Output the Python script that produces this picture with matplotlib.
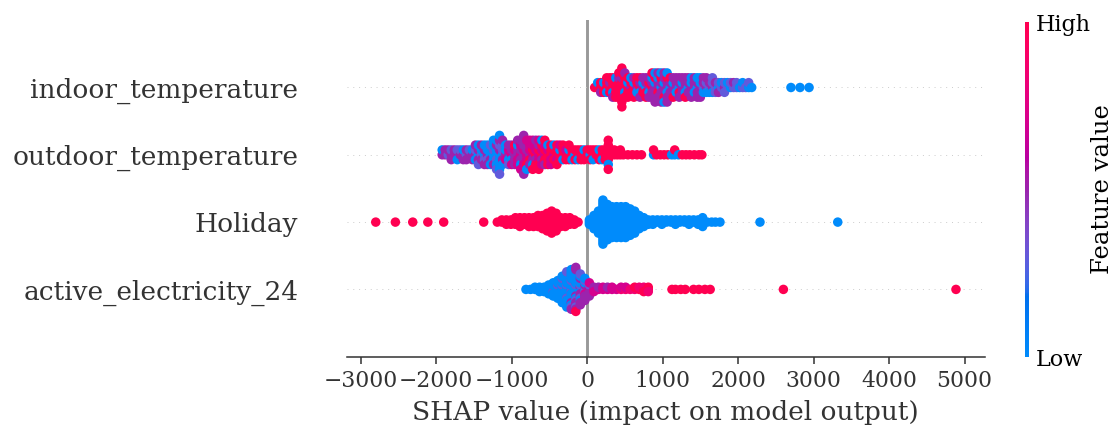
import numpy as np
import matplotlib
matplotlib.use("Agg")
import matplotlib.pyplot as plt
from matplotlib.colors import LinearSegmentedColormap, Normalize
from matplotlib.cm import ScalarMappable

plt.rcParams['font.family'] = 'DejaVu Serif'

# rows from bottom to top
feature_names = ['active_electricity_24', 'Holiday', 'outdoor_temperature', 'indoor_temperature']

# every bin: a SHAP value and one letter per dot in it (its feature value)
# H = high ... L = low
code = {'H': 1.0, 'h': 0.85, 'm': 0.7, 'M': 0.5, 'l': 0.3, 'L': 0.0}

indoor_bins = [100, 140, 180, 220, 260, 300, 340, 380, 420, 460, 500, 540, 580, 620, 660, 700,
               740, 780, 820, 860, 900, 940, 980, 1020, 1060, 1100, 1140, 1180, 1220, 1260, 1300,
               1340, 1380, 1420, 1460, 1500, 1540, 1580, 1620, 1660, 1700, 1740, 1780, 1820, 1860,
               1900, 1940, 1980, 2020, 2060, 2100, 2140, 2180, 2700, 2820, 2940]
indoor_dots = ["H", "HL", "HHM", "HLH", "HHLH", "HMHH", "HHLHM", "HHHLH", "HHHMHH", "HHHMHHHHH",
               "HHLHHM", "HLHHH", "MHHL", "HLHMH", "MHLH", "HMLHM", "MLHM", "LMHMH", "MHLMM",
               "HMMLMH", "MLMHMLM", "MMHLMM", "LMMHMLM", "MLMMHML", "MMLHMLM", "LMMHM", "MLMMH",
               "MMLM", "LMHMM", "MLMM", "MMLMH", "LMMM", "MLMLM", "MMLM", "LMMLM", "MLMLM",
               "lMLM", "MlLM", "lML", "MlLl", "lMl", "LlM", "lL", "Mll", "lL", "Ll", "lM", "ll",
               "L", "lL", "l", "Ll", "L", "L", "L", "L"]

outdoor_bins = [-1920, -1880, -1840, -1800, -1760, -1720, -1680, -1640, -1600, -1560, -1520,
                -1480, -1440, -1400, -1360, -1320, -1280, -1240, -1200, -1160, -1120, -1080,
                -1040, -1000, -960, -920, -880, -840, -800, -760, -720, -680, -640, -600, -560,
                -520, -480, -440, -400, -360, -320, -280, -240, -200, -160, -120, -80, -40, 0,
                40, 80, 120, 160, 200, 240, 280, 320, 360, 400, 440, 480, 540, 600, 660, 720,
                880, 920, 970, 1020, 1070, 1120, 1160, 1210, 1260, 1310, 1360, 1420, 1480, 1520]
outdoor_dots = ["ML", "MM", "lM", "MlM", "MM", "MlL", "Ml", "MLM", "lMM", "Ml", "MLM",
                "MlLM", "LMMLl", "lLMM", "LMlLM", "MLlLM", "LLMlL", "LlLLML", "LLlMLLl",
                "LMLlLMLLl", "LlMlLM", "MLmL", "MmLMl", "mMLMm", "MmMHM", "MMmLmM", "mMMmLMm",
                "MmMMmMmMM", "mMmMHmL", "MmHmMm", "mHMmLmH", "HmMmHM", "mHmMHmH", "HmMHmL",
                "mHHmMH", "HmHLH", "HHmHm", "mHHL", "HHmHH", "HLHm", "HHLH", "HmH", "HLHH", "HHL",
                "LHH", "HHL", "HHH", "HLH", "HH", "LHH", "HHL", "HH", "HLH", "HHL", "HHH",
                "HHHHLHH", "HH", "HH", "H", "HH", "H", "H", "H", "H", "H",
                "LH", "H", "H", "H", "H", "L", "LH", "L", "H", "H", "H", "H", "H", "H"]

holiday_bins = [-2800, -2540, -2310, -2110, -1900, -1370, -1190, -1130, -1070, -1010, -950, -890,
                -830, -770, -710, -650, -590, -530, -470, -410, -350, -290, -230, -170, -120,
                30, 90, 150, 210, 270, 330, 390, 450, 510, 570, 630, 690, 750, 810, 870, 930, 990,
                1050, 1110, 1170, 1230, 1290, 1350, 1410, 1470, 1530, 1590, 1650, 1700, 1760,
                2290, 3320]
holiday_counts = [1, 1, 1, 1, 1, 1, 1, 2, 3, 3, 4, 5, 4, 5, 5, 6, 7, 9, 11, 9, 5, 5, 4, 3, 1,
                  3, 7, 11, 21, 17, 15, 15, 15, 15, 13, 11, 7, 5, 3, 3, 2, 3, 2, 2, 3, 2, 2, 3, 2,
                  3, 5, 1, 1, 1, 1, 1, 1]
# holiday dots are high below zero and low above it
holiday_dots = [('H' if b < 0 else 'L') * n for b, n in zip(holiday_bins, holiday_counts)]

active_bins = [-810, -750, -690, -630, -570, -510, -450, -390, -330, -270, -210, -150, -90, -30,
               30, 90, 150, 210, 270, 330, 390, 450, 510, 570, 630, 690, 750, 810,
               1124, 1170, 1240, 1300, 1410, 1480, 1560, 1630, 2600, 4886]
active_dots = ["L", "L", "LL", "LLL", "LLL", "LLLLL", "LLlLLLL", "LLLlLLLLL", "LLLlLLLLLlLLL",
               "LLLlLLLLlLLLLLLlL", "LLlLLLLlLLLLMLLLlLM", "LLLlLLMLLLlLMLMLlMMMH",
               "LMLlMLMLlMLLMlM", "MLlMmLMlMLM", "MmMlMmM", "mMm", "mM", "mm", "mM", "mm", "m",
               "hm", "hm", "h", "hH", "Hh", "HhH", "HHh",
               "H", "H", "H", "H", "H", "H", "H", "H", "H", "H"]

rows = [(active_bins, active_dots), (holiday_bins, holiday_dots),
        (outdoor_bins, outdoor_dots), (indoor_bins, indoor_dots)]


# shap's red_blue colormap, built in LCH space
def lch_to_rgb(l, c, h):
    a = c * np.cos(h)
    b = c * np.sin(h)
    fy = (l + 16) / 116
    fx = fy + a / 500
    fz = fy - b / 200

    def finv(t):
        return np.where(t > 6 / 29, t ** 3, 3 * (6 / 29) ** 2 * (t - 4 / 29))

    X, Y, Z = 0.95047 * finv(fx), finv(fy), 1.08883 * finv(fz)
    r = 3.2406 * X - 1.5372 * Y - 0.4986 * Z
    g = -0.9689 * X + 1.8758 * Y + 0.0415 * Z
    bl = 0.0557 * X - 0.2040 * Y + 1.0570 * Z
    rgb = np.stack([r, g, bl], -1)
    rgb = np.where(rgb > 0.0031308, 1.055 * np.abs(rgb) ** (1 / 2.4) - 0.055, 12.92 * rgb)
    return np.clip(rgb, 0, 1)


nsteps = 100
l_vals = np.concatenate([np.linspace(54, 40, nsteps // 2), np.linspace(40, 54, nsteps // 2)])
c_vals = np.linspace(70, 90, nsteps)
h_vals = np.linspace(4.6588, 0.35470565 + 2 * np.pi, nsteps)
red_blue = LinearSegmentedColormap.from_list('red_blue', lch_to_rgb(l_vals, c_vals, h_vals))


def swarm(bins, dots, row_height=0.4):
    shaps, vals, ys = [], [], []
    for b, d in zip(bins, dots):
        for layer, ch in enumerate(d):
            shaps.append(b)
            vals.append(code[ch])
            ys.append(np.ceil(layer / 2) * ((layer % 2) * 2 - 1))
    ys = np.array(ys)
    ys *= 0.9 * (row_height / np.max(ys + 1))
    return np.array(shaps), np.array(vals), ys


fig = plt.figure(figsize=(8, 3.061), dpi=139.5)
ax = fig.add_axes([0.3107, 0.1646, 0.5719, 0.7881])

ax.axvline(x=0, color="#999999", zorder=-1)
for pos, (bins, dots) in enumerate(rows):
    ax.axhline(y=pos, color="#cccccc", lw=0.5, dashes=(1, 5), zorder=-1)
    shaps, vals, ys = swarm(bins, dots)
    ax.scatter(shaps, pos + ys, c=vals, cmap=red_blue, vmin=0, vmax=1, s=24,
               alpha=1, linewidth=0, zorder=3)

axis_color = "#333333"
ax.xaxis.set_ticks_position('bottom')
ax.yaxis.set_ticks_position('none')
for side in ['right', 'top', 'left']:
    ax.spines[side].set_visible(False)
ax.spines['bottom'].set_color(axis_color)
ax.tick_params(color=axis_color, labelcolor=axis_color)
ax.set_yticks(range(len(feature_names)))
ax.set_yticklabels(feature_names, fontsize=13.6)
ax.tick_params('y', length=20, width=0.5, pad=5, which='major')
ax.tick_params('x', labelsize=11.3)
ax.set_ylim(-1, len(feature_names))
ax.set_xlabel('SHAP value (impact on model output)', fontsize=13.6, color=axis_color)

cax = fig.add_axes([0.9185, 0.1639, 0.0036, 0.7845])
cb = fig.colorbar(ScalarMappable(norm=Normalize(0, 1), cmap=red_blue), cax=cax, ticks=[0, 1])
cb.set_ticklabels(['Low', 'High'])
cb.set_label('Feature value', size=12.5, labelpad=0)
cb.ax.tick_params(labelsize=11.5, length=0)
cb.outline.set_visible(False)

fig.savefig('out.png', dpi=139.5)
